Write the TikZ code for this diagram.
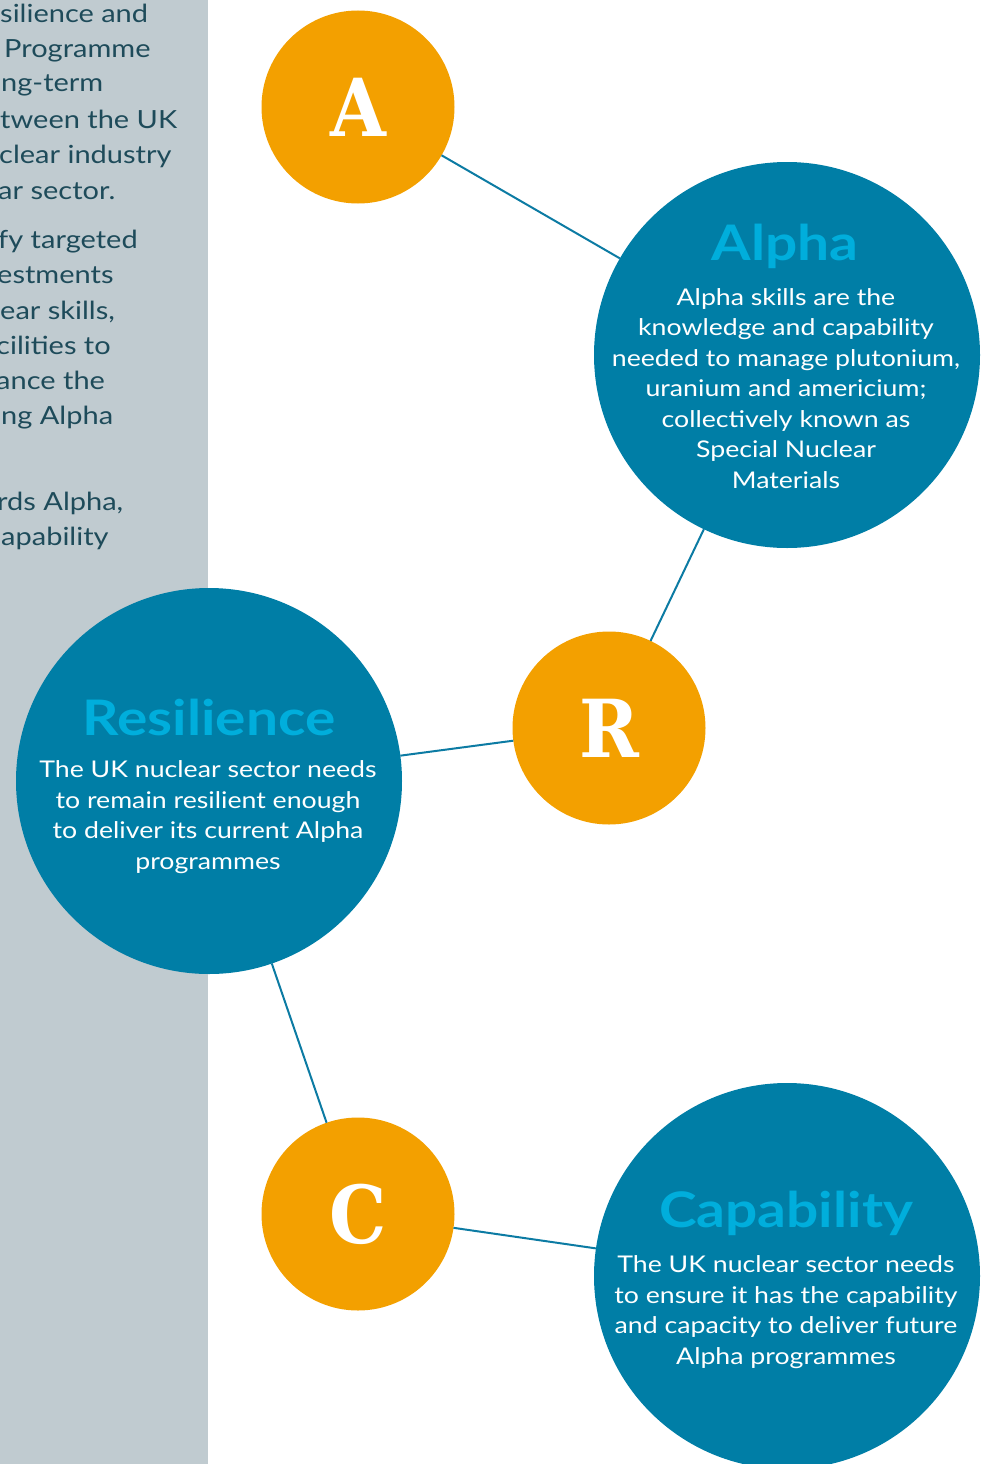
\documentclass[tikz,border=0pt]{standalone}
\usepackage{fontspec}
\setmainfont{Lato}[FakeStretch=1.16]
\newfontfamily\slab{DejaVu Serif}[FakeStretch=0.9]
\definecolor{panelgrey}{HTML}{C0CBD0}
\definecolor{paneltext}{HTML}{1E4B5A}
\definecolor{teal}{HTML}{007EA6}
\definecolor{cyanhead}{HTML}{00AEDC}
\definecolor{amber}{HTML}{F3A000}
\definecolor{linkline}{HTML}{0C7BA3}
\begin{document}
\begin{tikzpicture}[x=1pt,y=-1pt,
  bigdisc/.style={circle,fill=teal,minimum size=386pt,inner sep=0pt,outer sep=0pt},
  smalldisc/.style={circle,fill=amber,minimum size=193pt,inner sep=0pt,outer sep=0pt},
  letter/.style={text=white,font=\slab\bfseries\fontsize{80}{80}\selectfont,inner sep=0pt},
  heading/.style={text=cyanhead,font=\bfseries\fontsize{49}{49}\selectfont,inner sep=0pt,anchor=base},
  body/.style={text=white,align=center,font=\fontsize{23}{30.5}\selectfont,inner sep=0pt,anchor=base},
  side/.style={text=paneltext,font=\fontsize{25}{35}\selectfont,inner sep=0pt,anchor=base west},
  link/.style={draw=linkline,line width=2pt}]
\useasboundingbox (0,0) rectangle (1001,1464);
\clip (0,0) rectangle (1001,1464);

% grey side panel with its text column running off the left edge
\fill[panelgrey] (0,0) rectangle (208,1464);
\node[side] (s1)  at (0,23)   {silience and};
\node[side] (s2)  at (4,58)   {Programme};
\node[side] (s3)  at (1,92)   {ng-term};
\node[side] (s4)  at (0,128)  {tween the UK};
\node[side] (s5)  at (-1,163) {clear industry};
\node[side] (s6)  at (-2,199) {ar sector.};
\node[side] (s7)  at (-2,248) {fy targeted};
\node[side] (s8)  at (-3,283) {estments};
\node[side] (s9)  at (0,319)  {ear skills,};
\node[side] (s10) at (-4,354) {cilities to};
\node[side] (s11) at (-4,389) {ance the};
\node[side] (s12) at (1,424)  {ng Alpha};
\node[side] (s13) at (-3,510) {rds Alpha,};
\node[side] (s14) at (1,545)  {apability};

% discs
\node[smalldisc] (a) at (358,107) {};
\node[bigdisc] (alpha) at (787,355) {};
\node[smalldisc] (r) at (609,728) {};
\node[bigdisc] (resil) at (209,781) {};
\node[smalldisc] (c) at (358,1214) {};
\node[bigdisc] (capab) at (787,1276) {};

% connecting lines
\draw[link] (a) -- (alpha);
\draw[link] (alpha) -- (r);
\draw[link] (r) -- (resil);
\draw[link] (resil) -- (c);
\draw[link] (c) -- (capab);

% letters
\node[letter] (la) at (a) {A};
\node[letter] (lr) at (r) {R};
\node[letter] (lc) at (c) {C};

% headings and descriptions (body nodes sit on the baseline of their last line)
\node[heading] (ha) at (785,260) {Alpha};
\node[body] (ba) at (786,488) {Alpha skills are the\\knowledge and capability\\needed to manage plutonium,\\uranium and americium;\\collectively known as\\Special Nuclear\\Materials};
\node[heading] (hr) at (209,735) {Resilience};
\node[body] (br) at (208,869) {The UK nuclear sector needs\\to remain resilient enough\\to deliver its current Alpha\\programmes};
\node[heading] (hc) at (786,1227) {Capability};
\node[body] (bc) at (786,1364) {The UK nuclear sector needs\\to ensure it has the capability\\and capacity to deliver future\\Alpha programmes};
\end{tikzpicture}
\end{document}
